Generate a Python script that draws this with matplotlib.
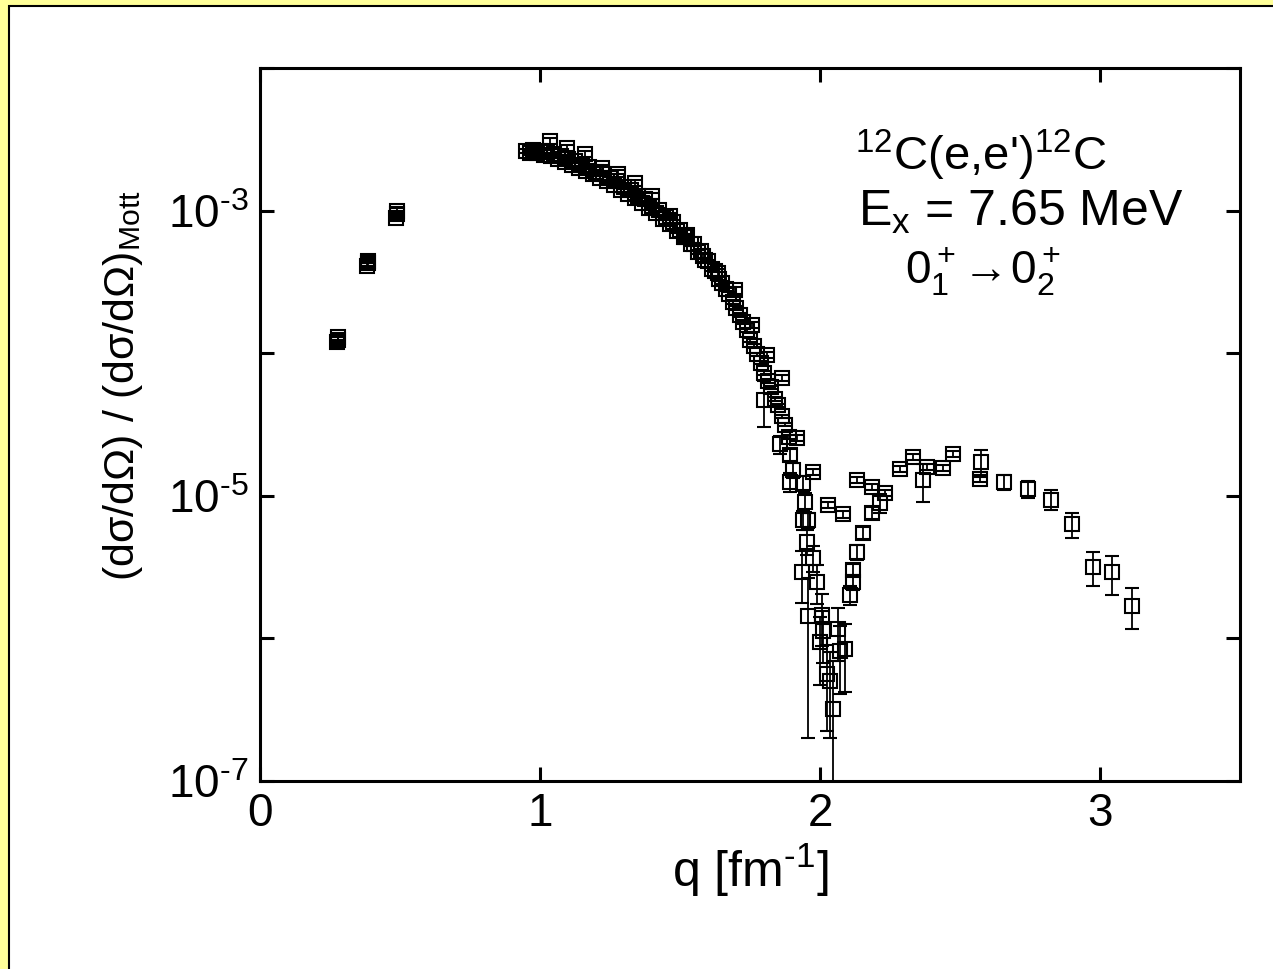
import numpy as np
import matplotlib
matplotlib.use("Agg")
import matplotlib.pyplot as plt
from matplotlib.patches import Rectangle
from matplotlib.ticker import FixedLocator, FuncFormatter, NullLocator

plt.rcParams['font.family'] = ['Liberation Sans', 'DejaVu Sans']
plt.rcParams['mathtext.fontset'] = 'custom'
plt.rcParams['mathtext.rm'] = 'Liberation Sans'
plt.rcParams['mathtext.it'] = 'Liberation Sans'
plt.rcParams['mathtext.bf'] = 'Liberation Sans'

# low-q points
q_low = [0.275, 0.277, 0.279, 0.382, 0.384, 0.386, 0.487, 0.489, 0.491]
f_low = [1.19e-4, 1.24e-4, 1.29e-4, 4.10e-4, 4.27e-4, 4.45e-4, 8.9e-4, 9.4e-4, 1.0e-3]
e_low = [0.04] * len(q_low)

# dense data set, first maximum and fall-off
q_d1 = [0.95, 0.975, 1.0, 1.025, 1.05, 1.075, 1.10, 1.125, 1.15, 1.175,
        1.20, 1.225, 1.25, 1.275, 1.30, 1.325, 1.35, 1.375, 1.40, 1.425,
        1.45, 1.475, 1.50, 1.525, 1.55, 1.575, 1.60, 1.625, 1.65, 1.675,
        1.70, 1.725, 1.75, 1.775, 1.80, 1.825, 1.85, 1.875]
f_d1 = [2.63e-3, 2.66e-3, 2.60e-3, 2.57e-3, 2.48e-3, 2.40e-3, 2.29e-3, 2.24e-3, 2.09e-3, 2.02e-3,
        1.88e-3, 1.82e-3, 1.68e-3, 1.60e-3, 1.46e-3, 1.40e-3, 1.27e-3, 1.20e-3, 1.08e-3, 1.01e-3,
        9.0e-4, 8.3e-4, 7.3e-4, 6.7e-4, 5.8e-4, 5.2e-4, 4.4e-4, 3.8e-4, 3.13e-4, 2.6e-4,
        2.07e-4, 1.66e-4, 1.24e-4, 9.8e-5, 7.3e-5, 5.75e-5, 4.3e-5, 3.16e-5]

q_d2 = [0.9625, 0.9875, 1.0125, 1.0375, 1.0625, 1.0875, 1.1125, 1.1375, 1.1625, 1.1875,
        1.2125, 1.2375, 1.2625, 1.2875, 1.3125, 1.3375, 1.3625, 1.3875, 1.4125, 1.4375,
        1.4625, 1.4875, 1.5125, 1.5375, 1.5625, 1.5875, 1.6125, 1.6375, 1.6625, 1.6875,
        1.7125, 1.7375, 1.7625, 1.7875, 1.8125, 1.8375, 1.8625, 1.8875]
f_d2 = [2.55e-3, 2.52e-3, 2.47e-3, 2.40e-3, 2.30e-3, 2.20e-3, 2.10e-3, 2.00e-3, 1.90e-3, 1.80e-3,
        1.70e-3, 1.60e-3, 1.50e-3, 1.40e-3, 1.31e-3, 1.22e-3, 1.13e-3, 1.04e-3, 9.6e-4, 8.8e-4,
        8.0e-4, 7.2e-4, 6.5e-4, 5.8e-4, 5.1e-4, 4.5e-4, 3.9e-4, 3.3e-4, 2.8e-4, 2.3e-4,
        1.85e-4, 1.45e-4, 1.12e-4, 8.6e-5, 6.4e-5, 4.8e-5, 3.6e-5, 2.6e-5]

# coarser set with small errors
q_g = [1.036, 1.096, 1.161, 1.221, 1.279, 1.339, 1.400, 1.464, 1.518, 1.582,
       1.636, 1.696, 1.757, 1.811, 1.864, 1.918, 1.975, 2.029, 2.082, 2.132,
       2.186, 2.232, 2.285, 2.332, 2.382, 2.439, 2.475]
f_g = [3.09e-3, 2.76e-3, 2.51e-3, 2.00e-3, 1.82e-3, 1.57e-3, 1.27e-3, 9.2e-4, 6.5e-4, 4.8e-4,
       3.68e-4, 2.76e-4, 1.57e-4, 9.7e-5, 6.7e-5, 2.55e-5, 1.47e-5, 8.65e-6, 7.4e-6, 1.29e-5,
       1.16e-5, 1.05e-5, 1.55e-5, 1.87e-5, 1.6e-5, 1.57e-5, 1.97e-5]
e_g = [0.05] * len(q_g)

# diffraction minimum and second maximum
q_m = [1.800, 1.857, 1.893, 1.904, 1.893, 1.939, 1.946, 1.939, 1.957, 1.954,
       1.975, 1.936, 1.989, 1.957, 2.007, 2.011, 2.064, 2.000, 2.071, 2.089,
       2.025, 2.036, 2.046, 2.107, 2.118, 2.118, 2.132, 2.154, 2.186, 2.214,
       2.368, 2.571, 2.575, 2.657, 2.743, 2.825, 2.900, 2.975, 3.043, 3.114]
f_m = [4.7e-5, 2.3e-5, 1.94e-5, 1.52e-5, 1.25e-5, 1.23e-5, 9.1e-6, 6.8e-6, 6.8e-6, 4.77e-6,
       3.68e-6, 2.94e-6, 2.5e-6, 1.43e-6, 1.47e-6, 1.12e-6, 1.16e-6, 9.4e-7, 8.1e-7, 8.4e-7,
       5.6e-7, 5.0e-7, 3.18e-7, 2.03e-6, 2.47e-6, 3.04e-6, 4.06e-6, 5.5e-6, 7.6e-6, 8.9e-6,
       1.29e-5, 1.32e-5, 1.73e-5, 1.25e-5, 1.12e-5, 9.4e-6, 6.3e-6, 3.19e-6, 2.9e-6, 1.7e-6]
e_m = [0.35, 0.15, 0.10, 0.12, 0.15, 0.12, 0.15, 0.15, 0.12, 0.20,
       0.20, 0.40, 0.30, 0.86, 0.40, 0.40, 0.40, 0.50, 0.50, 0.50,
       0.60, 0.60, 1.20, 0.15, 0.12, 0.10, 0.12, 0.10, 0.10, 0.15,
       0.30, 0.06, 0.22, 0.12, 0.14, 0.16, 0.20, 0.27, 0.30, 0.32]

fig = plt.figure(figsize=(12.73, 9.69), dpi=100)
fig.patch.set_facecolor('#ffff99')
fig.patches.append(Rectangle((9 / 1273, -0.01), 1.02, 1 - 6 / 969 + 0.01,
                             transform=fig.transFigure, facecolor='white',
                             edgecolor='black', linewidth=1.5, zorder=-5))

ax = fig.add_axes([260 / 1273, 1 - 781 / 969, 980 / 1273, 713 / 969])
ax.set_facecolor('none')

style = dict(fmt='s', ms=10, mfc='none', mec='black', mew=1.5, ecolor='black',
             elinewidth=1.3, capsize=5, capthick=1.4)

for q, f, e in [(q_low, f_low, e_low), (q_d1, f_d1, [0.03] * len(q_d1)),
                (q_d2, f_d2, [0.03] * len(q_d2)), (q_g, f_g, e_g), (q_m, f_m, e_m)]:
    f = np.array(f)
    ax.errorbar(q, f, yerr=f * np.array(e), **style)

ax.set_yscale('log')
ax.set_xlim(0, 3.5)
ax.set_ylim(1e-7, 1e-2)

ax.xaxis.set_major_locator(FixedLocator([0, 1, 2, 3]))
ax.yaxis.set_major_locator(FixedLocator([1e-7, 1e-6, 1e-5, 1e-4, 1e-3, 1e-2]))
ax.yaxis.set_minor_locator(NullLocator())


def ylab(v, pos):
    k = int(round(np.log10(v)))
    return r'10$^{\text{-}%d}$' % abs(k) if k % 2 else ''


ax.yaxis.set_major_formatter(FuncFormatter(ylab))
ax.tick_params(which='major', direction='in', length=10, width=2.2,
               top=True, right=True, labelsize=33, pad=8)
for s in ax.spines.values():
    s.set_linewidth(2.2)

ax.set_xlabel(r'q [fm$^{\text{-}1}$]', fontsize=36, labelpad=4)
ax.set_ylabel(r'(d$\sigma$/d$\Omega$) / (d$\sigma$/d$\Omega$)$_{\mathrm{Mott}}$',
              fontsize=31)
ax.yaxis.set_label_coords(-0.117, 0.554)

ax.text(0.735, 0.878, r"$^{12}$C(e,e')$^{12}$C", transform=ax.transAxes,
        ha='center', va='center', fontsize=34)
ax.text(0.776, 0.798, r'E$_\mathrm{x}$ = 7.65 MeV', transform=ax.transAxes,
        ha='center', va='center', fontsize=36)
ax.text(0.738, 0.714, r'$0_1^+ \!\rightarrow\! 0_2^+$', transform=ax.transAxes,
        ha='center', va='center', fontsize=33)

fig.savefig('out.png', dpi=100)
